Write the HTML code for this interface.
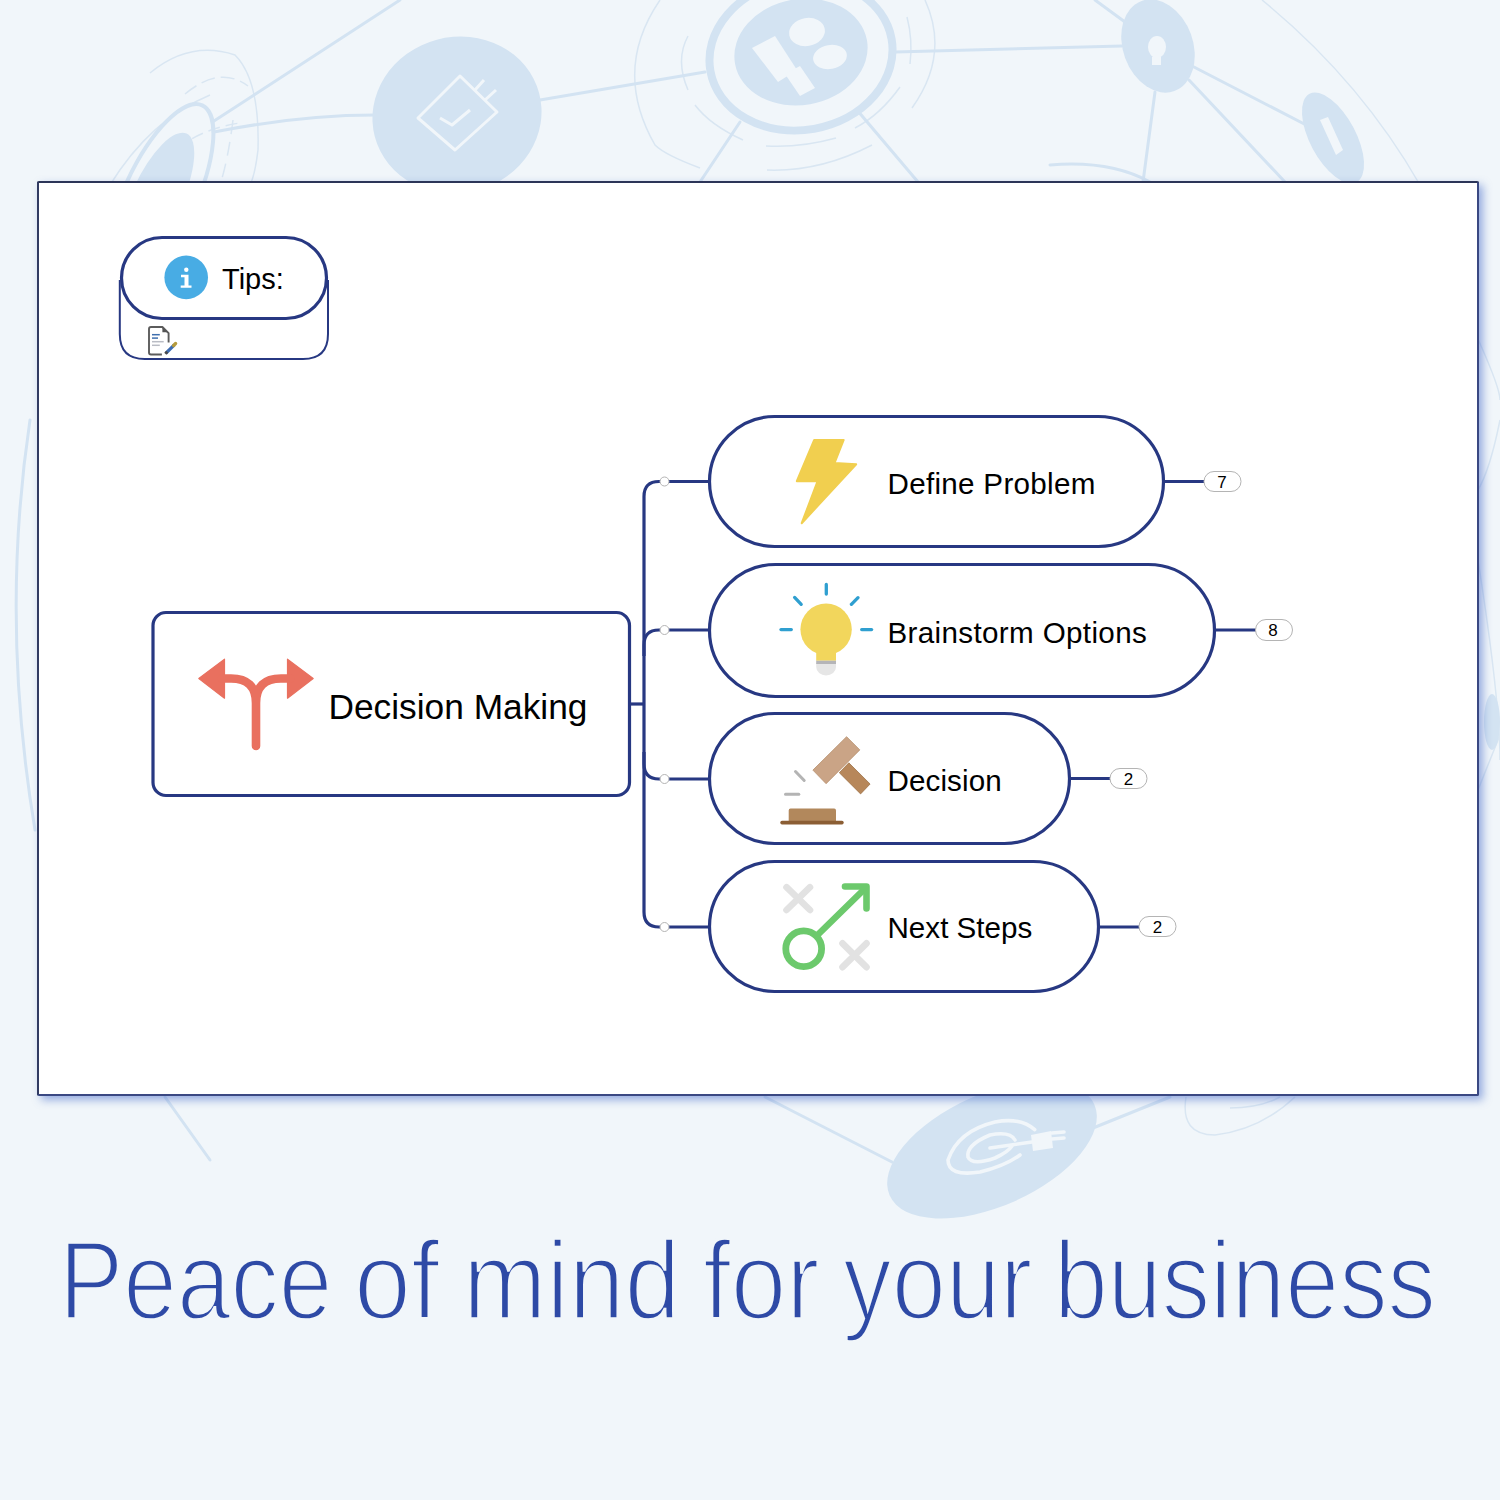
<!DOCTYPE html>
<html><head><meta charset="utf-8">
<style>
html,body{margin:0;padding:0;}
body{-webkit-font-smoothing:antialiased;width:1500px;height:1500px;overflow:hidden;background:#f1f6fa;position:relative;font-family:"Liberation Sans",sans-serif;}
.abs{position:absolute;}
#bg{position:absolute;left:0;top:0;}
#panel{position:absolute;left:37px;top:181px;width:1438px;height:911px;border:2px solid #3a4882;border-top-color:#2c3558;border-left-color:#323b62;background:#fff;border-radius:2px;box-shadow:4px 4px 9px rgba(60,100,200,0.5);}
#map{position:absolute;left:0;top:0;}
.t{position:absolute;color:#000;white-space:nowrap;line-height:1;}
#title{position:absolute;left:0;top:0;}
.tw{position:absolute;top:1225.5px;font-size:110.5px;color:#2e4aa6;white-space:nowrap;line-height:1;-webkit-text-stroke:3.3px #f1f6fa;transform-origin:0 0;}
</style></head>
<body>
<svg id="bg" width="1500" height="1500" viewBox="0 0 1500 1500">
  <g fill="none" stroke="#d9e6f2" stroke-width="1.5">
    <path d="M1262 0 Q1360 80 1420 185"/>
    <path d="M1440 260 Q1500 380 1500 400"/>
    <path d="M1500 420 Q1490 470 1478 490"/>
    <path d="M1478 560 Q1500 700 1500 760"/>
    <path d="M1478 790 L1500 735"/>
    <path d="M110 185 Q150 120 210 95"/>
    <path d="M150 73 Q190 40 235 55 Q260 80 258 150 Q255 175 250 185"/>
    <path d="M185 94 Q220 65 248 86" stroke-dasharray="14 6"/>
    <path d="M143 190 Q175 132 240 123" stroke-dasharray="12 6"/>
    <path d="M233 120 Q228 160 220 185" stroke-dasharray="14 8"/>
    <path d="M660 0 Q612 70 655 145 Q665 155 700 168"/>
    <path d="M688 36 Q675 60 688 90" />
    <path d="M695 105 Q710 125 743 140"/>
    <path d="M766 146 Q800 148 836 138"/>
    <path d="M767 170 Q820 172 872 145"/>
    <path d="M855 128 Q880 115 900 87"/>
    <path d="M907 17 Q913 40 910 64"/>
    <path d="M925 0 Q950 55 912 108"/>
  </g>
  <g fill="none" stroke="#d3e3f2" stroke-width="3" stroke-linecap="round">
    <path d="M214 121 L400 0"/>
    <path d="M214 132 Q300 115 375 115"/>
    <path d="M540 100 L705 72"/>
    <path d="M895 52 L1122 46"/>
    <path d="M740 122 L700 182"/>
    <path d="M857 110 L918 182"/>
    <path d="M1095 0 L1125 22"/>
    <path d="M1192 66 L1312 128"/>
    <path d="M1189 80 L1285 182"/>
    <path d="M1155 92 L1143 182"/>
    <path d="M1050 165 Q1110 160 1150 182"/>
    <path d="M30 420 Q0 620 35 830"/>
    <path d="M765 1097 L892 1162"/>
    <path d="M1093 1128 L1170 1097"/>
    <path d="M165 1097 L210 1160"/>
  </g>
  <g fill="none" stroke="#d9e6f2" stroke-width="1.5">
    <path d="M1186 1097 Q1180 1135 1215 1135 Q1260 1130 1295 1097"/>
    <path d="M1230 1108 Q1260 1108 1280 1097"/>
  </g>
  <g fill="#d3e3f2">
    <ellipse cx="457" cy="115" rx="85" ry="78" transform="rotate(-15 457 115)"/>
    <ellipse cx="801" cy="52" rx="67" ry="53" transform="rotate(-10 801 52)"/>
    <ellipse cx="1158" cy="46" rx="35" ry="48" transform="rotate(-20 1158 46)"/>
    <ellipse cx="1333" cy="138" rx="23" ry="50" transform="rotate(-28 1333 138)"/>
    <ellipse cx="992" cy="1150" rx="112" ry="56" transform="rotate(-24 992 1150)"/>
    <ellipse cx="1492" cy="722" rx="8" ry="28"/>
    <ellipse cx="157" cy="197" rx="25" ry="70" transform="rotate(25 157 197)"/>
  </g>
  <ellipse cx="801" cy="55" rx="92" ry="75" transform="rotate(-10 801 55)" fill="none" stroke="#d3e3f2" stroke-width="8"/>
  <ellipse cx="160" cy="196" rx="36" ry="100" transform="rotate(25 160 196)" fill="none" stroke="#d3e3f2" stroke-width="4"/>
  <!-- white icon marks -->
  <g fill="none" stroke="#f1f6fa" stroke-width="3" stroke-linejoin="round">
    <path d="M418 118 L460 76 L497 112 L455 150 Z"/>
    <path d="M440 118 L452 125 L470 110"/>
    <path d="M475 90 L484 80 M485 100 L496 90"/>
  </g>
  <g fill="#f1f6fa">
    <path d="M752 48 L775 36 L797 70 L778 82 Z"/>
    <path d="M785 74 L800 66 L815 88 L800 96 Z"/>
    <ellipse cx="807" cy="32" rx="18" ry="14" transform="rotate(-10 807 32)"/>
    <ellipse cx="830" cy="57" rx="17" ry="12" transform="rotate(-10 830 57)"/>
    <ellipse cx="1157" cy="47" rx="9" ry="11"/>
    <rect x="1152" y="57" width="9" height="8"/>
    <path d="M1320 120 L1328 117 L1343 150 L1336 155 Z"/>
  </g>
  <g fill="none" stroke="#f1f6fa" stroke-width="3.6" stroke-linecap="round">
    <path d="M1034.7 1129.6 Q1020 1117 995 1122 Q958 1131 948 1160 Q948 1177 980 1172 Q1005 1166 1020 1155"/>
    <path d="M1015 1140 Q1010 1131 990 1135 Q966 1145 968 1157 Q972 1166 995 1158 Q1008 1152 1012 1146"/>
    <path d="M990 1148 L1032 1142"/>
    <path d="M1052 1133 L1064 1132 M1052 1139 L1064 1138"/>
  </g>
  <path d="M1031 1135 L1051 1131 L1053 1148 L1033 1151 Z" fill="#f1f6fa"/>
</svg>
<div id="panel"></div>
<svg id="map" width="1500" height="1500" viewBox="0 0 1500 1500">
  <g fill="none" stroke="#273882" stroke-width="3.2">
    <!-- tips -->
    <path d="M119.8 280 V334 Q119.8 359 144.8 359 H303 Q328 359 328 334 V280" stroke-width="2"/>
    <rect x="121.5" y="237.5" width="205" height="81" rx="40.5" fill="#fff"/>
    <!-- central -->
    <rect x="153" y="612.5" width="476.5" height="183" rx="13"/>
    <!-- pills -->
    <rect x="709.5" y="416.5" width="454" height="130" rx="65"/>
    <rect x="709.5" y="564.5" width="505" height="132" rx="66"/>
    <rect x="709.5" y="713.5" width="360" height="130" rx="65"/>
    <rect x="709.5" y="861.5" width="389" height="130" rx="65"/>
    <!-- connectors -->
    <path d="M630 704 H644"/>
    <path d="M659 481.5 Q644 481.5 644 496.5 V912 Q644 927 659 927 H709"/>
    <path d="M659 481.5 H709"/>
    <path d="M644 656 V645 Q644 630 659 630 H709"/>
    <path d="M644 752 V764 Q644 779 659 779 H709"/>
    <path d="M1164 481.5 H1204"/>
    <path d="M1215 630 H1256"/>
    <path d="M1070 778.5 H1110"/>
    <path d="M1099 927 H1139"/>
  </g>
  <g fill="#fff" stroke="#b4b4b4" stroke-width="1">
    <circle cx="664.5" cy="481.5" r="4.5"/>
    <circle cx="664.5" cy="630" r="4.5"/>
    <circle cx="664.5" cy="779" r="4.5"/>
    <circle cx="664.5" cy="927" r="4.5"/>
    <rect x="1204" y="471.5" width="37" height="20" rx="10"/>
    <rect x="1255.5" y="619.5" width="37" height="21" rx="10.5"/>
    <rect x="1110" y="768.5" width="37" height="20" rx="10"/>
    <rect x="1139" y="916.5" width="37" height="20" rx="10"/>
  </g>
  <!-- info icon -->
  <circle cx="186.2" cy="277.4" r="21.8" fill="#48ace4"/>
  <g fill="#fff">
    <circle cx="186.3" cy="269.8" r="2.2"/>
    <path d="M181 274.7 H188.5 V285.5 H191.5 V287.8 H180.7 V285.5 H184.5 V277.3 H181 Z"/>
  </g>
  <!-- doc icon -->
  <g fill="none" stroke="#5c5c5c" stroke-width="1.9" stroke-linejoin="round">
    <path d="M161.9 354.5 H151 Q149 354.5 149 352.5 V329 Q149 327 151 327 H162.4 L168.6 333.2 V342.5"/>
  </g>
  <path d="M162.4 327.2 V332.3 H167.9 Z" fill="#555"/>
  <g stroke-width="1.5">
    <path d="M152 334.7 H159.8" stroke="#3f6fae"/>
    <path d="M152 338.1 H158" stroke="#3f6fae"/>
    <path d="M152 341.7 H163.7" stroke="#b9bcc4"/>
    <path d="M152 345.3 H159.8" stroke="#b9bcc4"/>
  </g>
  <path d="M166 353.1 L174.3 344.8" stroke="#3d6cb3" stroke-width="3.3" stroke-linecap="butt"/>
  <path d="M173.6 345.5 L175.6 343.5" stroke="#b49a3c" stroke-width="3.3" stroke-linecap="round"/>
  <path d="M165.3 353.8 L167.3 351.8" stroke="#4a4a4a" stroke-width="3" stroke-linecap="butt"/>
  <!-- arrow icon -->
  <g fill="#e9705f" stroke="#e9705f" stroke-width="1.2" stroke-linejoin="round">
    <path d="M198.8 678.5 L224.5 659.2 L224.5 698.2 Z"/>
    <path d="M313.2 678.5 L287.5 659.2 L287.5 698.2 Z"/>
  </g>
  <path d="M222 678.5 H231 Q256 678.5 256 703 V746 M290 678.5 H281 Q256 678.5 256 703" fill="none" stroke="#e9705f" stroke-width="8.6" stroke-linecap="round"/>
  <!-- bolt -->
  <path d="M814.2 440 L843.7 440 L834.6 463 L856.2 464.2 L801.7 523.2 L817.6 481.2 L796.8 481.2 Z" fill="#f1cf4f" stroke="#f1cf4f" stroke-width="2" stroke-linejoin="round"/>
  <!-- lightbulb -->
  <g stroke="#2f9fd0" stroke-width="3.3" stroke-linecap="round">
    <path d="M826.3 584.5 V594"/>
    <path d="M794.6 597.4 L801.2 604.3"/>
    <path d="M858 597.7 L851.4 604.3"/>
    <path d="M781 629.6 H791.3"/>
    <path d="M861.7 629.6 H871.6"/>
  </g>
  <path d="M816.2 663 V667 A9.9 8.5 0 0 0 836 667 V663 Z" fill="#e6e6e6"/>
  <rect x="816.2" y="660.4" width="19.8" height="3.6" fill="#b5b5b8"/>
  <circle cx="826.1" cy="629.3" r="25.7" fill="#f2d65c"/>
  <path d="M808 646 L816.2 652 V660.5 H836 V652 L844 646 Z" fill="#f2d65c"/>
  <!-- gavel -->
  <path d="M846.6 736.7 L859.8 749.9 L826.1 783.7 L812.9 770.1 Z" fill="#caa486" stroke="#b8916f" stroke-width="0.8" stroke-linejoin="round"/>
  <path d="M848.8 762.8 L870.1 784.0 L860.6 793.9 L839.3 772.7 Z" fill="#b7875a" stroke="#9e7349" stroke-width="0.8" stroke-linejoin="round"/>
  <path d="M790.5 808.6 H834.2 Q836 808.6 836 810.4 V821.1 H788.7 V810.4 Q788.7 808.6 790.5 808.6 Z" fill="#b2885c"/>
  <path d="M782 820.7 H842 Q843.7 820.7 843.7 822.5 Q843.7 824.4 842 824.4 H782 Q780.3 824.4 780.3 822.5 Q780.3 820.7 782 820.7 Z" fill="#8b5e34"/>
  <g stroke="#b4b4b4" stroke-width="3" stroke-linecap="round">
    <path d="M795.5 771.5 L804.2 780.5"/>
    <path d="M785.5 794.3 H798.8"/>
  </g>
  <!-- next steps -->
  <g stroke="#e2e2e2" stroke-width="6.6" stroke-linecap="round">
    <path d="M786.5 887.2 L810 910 M810 887.2 L786.5 910"/>
    <path d="M842.5 943.3 L866.5 967.2 M866.5 943.3 L842.5 967.2"/>
  </g>
  <circle cx="803.7" cy="948.8" r="17.9" fill="none" stroke="#6cc96c" stroke-width="6.8"/>
  <g stroke="#6cc96c" stroke-width="6.6" stroke-linecap="round" stroke-linejoin="round" fill="none">
    <path d="M817 935.5 L864 889.5"/>
    <path d="M845 886.5 H866.5 V908.5"/>
  </g>
</svg>
<div class="t" style="left:222px;top:265px;font-size:29px;">Tips:</div>
<div class="t" style="left:328.5px;top:689px;font-size:35.3px;">Decision Making</div>
<div class="t" style="left:887.5px;top:469px;font-size:29.6px;letter-spacing:0.3px;">Define Problem</div>
<div class="t" style="left:887.5px;top:617.5px;font-size:29.6px;letter-spacing:0.35px;">Brainstorm Options</div>
<div class="t" style="left:887.5px;top:766px;font-size:29.6px;letter-spacing:0.1px;">Decision</div>
<div class="t" style="left:887.5px;top:913px;font-size:29.6px;">Next Steps</div>
<div class="t" style="left:1216px;top:473.5px;font-size:17px;width:12px;text-align:center;">7</div>
<div class="t" style="left:1267px;top:621.5px;font-size:17px;width:12px;text-align:center;">8</div>
<div class="t" style="left:1122.5px;top:770.5px;font-size:17px;width:12px;text-align:center;">2</div>
<div class="t" style="left:1151.5px;top:918.5px;font-size:17px;width:12px;text-align:center;">2</div>
<div id="title"><div class="tw" style="left:58.6px;transform:scaleX(0.8728)">Peace</div><div class="tw" style="left:354.3px;transform:scaleX(0.9266)">of</div><div class="tw" style="left:462.6px;transform:scaleX(0.9070)">mind</div><div class="tw" style="left:702.6px;transform:scaleX(0.9041)">for</div><div class="tw" style="left:842.9px;transform:scaleX(0.8816)">your</div><div class="tw" style="left:1053.9px;transform:scaleX(0.8757)">business</div></div>
</body></html>
